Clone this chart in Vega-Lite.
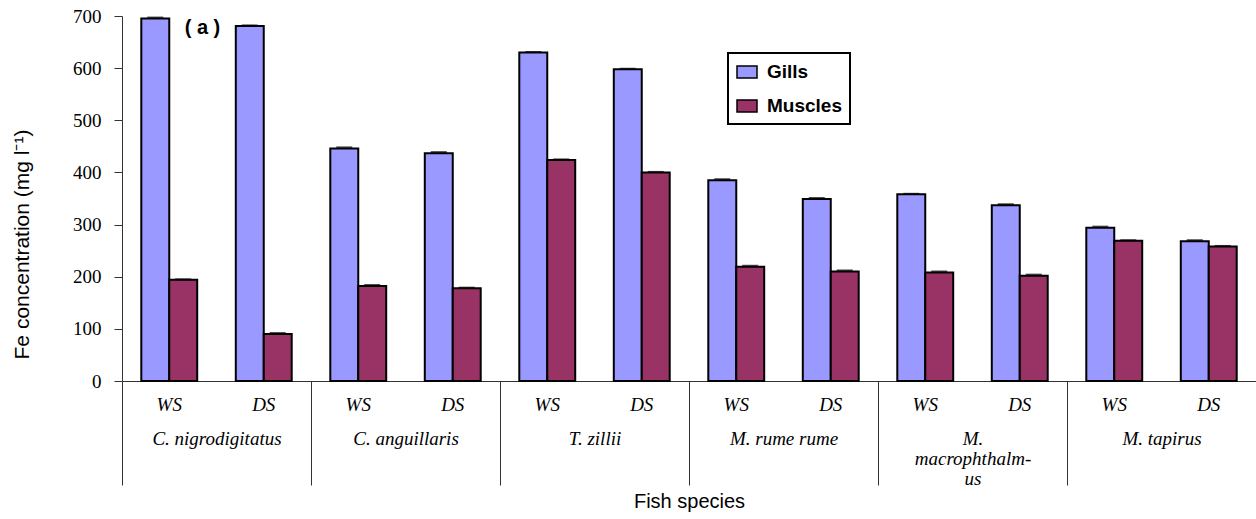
{
  "$schema": "https://vega.github.io/schema/vega-lite/v6.json",
  "width": 1134,
  "height": 365,
  "autosize": {"type": "none"},
  "padding": {"left": 122, "top": 16, "right": 0, "bottom": 138},
  "background": "white",
  "config": {"view": {"stroke": null}, "font": "Liberation Sans", "legend": {"strokeWidth": 2}},
  "data": {
    "values": [
      {"species": "C. nigrodigitatus", "cell": "C. nigrodigitatus|WS", "organ": "Gills", "value": 695, "upper": 697},
      {"species": "C. nigrodigitatus", "cell": "C. nigrodigitatus|WS", "organ": "Muscles", "value": 194, "upper": 195},
      {"species": "C. nigrodigitatus", "cell": "C. nigrodigitatus|DS", "organ": "Gills", "value": 681, "upper": 682},
      {"species": "C. nigrodigitatus", "cell": "C. nigrodigitatus|DS", "organ": "Muscles", "value": 90, "upper": 92},
      {"species": "C. anguillaris", "cell": "C. anguillaris|WS", "organ": "Gills", "value": 446, "upper": 448},
      {"species": "C. anguillaris", "cell": "C. anguillaris|WS", "organ": "Muscles", "value": 182, "upper": 184},
      {"species": "C. anguillaris", "cell": "C. anguillaris|DS", "organ": "Gills", "value": 437, "upper": 439},
      {"species": "C. anguillaris", "cell": "C. anguillaris|DS", "organ": "Muscles", "value": 178, "upper": 179},
      {"species": "T. zillii", "cell": "T. zillii|WS", "organ": "Gills", "value": 630, "upper": 631},
      {"species": "T. zillii", "cell": "T. zillii|WS", "organ": "Muscles", "value": 424, "upper": 425},
      {"species": "T. zillii", "cell": "T. zillii|DS", "organ": "Gills", "value": 598, "upper": 599},
      {"species": "T. zillii", "cell": "T. zillii|DS", "organ": "Muscles", "value": 400, "upper": 401},
      {"species": "M. rume rume", "cell": "M. rume rume|WS", "organ": "Gills", "value": 385, "upper": 387},
      {"species": "M. rume rume", "cell": "M. rume rume|WS", "organ": "Muscles", "value": 219, "upper": 221},
      {"species": "M. rume rume", "cell": "M. rume rume|DS", "organ": "Gills", "value": 349, "upper": 351},
      {"species": "M. rume rume", "cell": "M. rume rume|DS", "organ": "Muscles", "value": 210, "upper": 212},
      {"species": "M. macrophthalmus", "cell": "M. macrophthalmus|WS", "organ": "Gills", "value": 358, "upper": 359},
      {"species": "M. macrophthalmus", "cell": "M. macrophthalmus|WS", "organ": "Muscles", "value": 208, "upper": 210},
      {"species": "M. macrophthalmus", "cell": "M. macrophthalmus|DS", "organ": "Gills", "value": 337, "upper": 339},
      {"species": "M. macrophthalmus", "cell": "M. macrophthalmus|DS", "organ": "Muscles", "value": 202, "upper": 204},
      {"species": "M. tapirus", "cell": "M. tapirus|WS", "organ": "Gills", "value": 294, "upper": 296},
      {"species": "M. tapirus", "cell": "M. tapirus|WS", "organ": "Muscles", "value": 269, "upper": 270},
      {"species": "M. tapirus", "cell": "M. tapirus|DS", "organ": "Gills", "value": 268, "upper": 270},
      {"species": "M. tapirus", "cell": "M. tapirus|DS", "organ": "Muscles", "value": 258, "upper": 259}
    ]
  },
  "layer": [
    {
      "layer": [
        {
          "mark": {"type": "bar", "stroke": "black", "strokeWidth": 2},
          "encoding": {
            "x": {
              "field": "cell",
              "type": "nominal",
              "scale": {
                "domain": ["C. nigrodigitatus|WS", "C. nigrodigitatus|DS", "C. anguillaris|WS", "C. anguillaris|DS", "T. zillii|WS", "T. zillii|DS", "M. rume rume|WS", "M. rume rume|DS", "M. macrophthalmus|WS", "M. macrophthalmus|DS", "M. tapirus|WS", "M. tapirus|DS"],
                "paddingInner": 0,
                "paddingOuter": 0
              },
              "axis": {
                "title": null,
                "orient": "bottom",
                "labelExpr": "split(datum.label, '|')[1]",
                "ticks": false,
                "tickSize": 0,
                "labelAngle": 0,
                "labelFont": "Liberation Serif",
                "labelFontStyle": "italic",
                "labelFontSize": 19,
                "labelColor": "black",
                "labelPadding": 14,
                "domainColor": "#333333",
                "domainWidth": 1
              }
            },
            "xOffset": {
              "field": "organ",
              "type": "nominal",
              "scale": {"domain": ["Gills", "Muscles"], "paddingInner": 0, "paddingOuter": 0.69}
            },
            "y": {
              "field": "value",
              "type": "quantitative",
              "scale": {"domain": [0, 700], "nice": false},
              "axis": {
                "title": "Fe concentration (mg l⁻¹)",
                "values": [0, 100, 200, 300, 400, 500, 600, 700],
                "grid": false,
                "domainColor": "#333333",
                "tickColor": "#333333",
                "tickSize": 8,
                "labelPadding": 13,
                "labelFont": "Liberation Serif",
                "labelFontSize": 19,
                "labelColor": "black",
                "titleFont": "Liberation Sans",
                "titleFontSize": 21,
                "titleFontWeight": "normal",
                "titleColor": "black",
                "titlePadding": 40,
                "titleY": 228
              }
            },
            "fill": {
              "field": "organ",
              "type": "nominal",
              "scale": {"domain": ["Gills", "Muscles"], "range": ["#9999FF", "#993366"]},
              "legend": {
                "title": null,
                "orient": "none",
                "legendX": 606,
                "legendY": 37,
                "direction": "vertical",
                "strokeColor": "black",
                "fillColor": "white",
                "padding": 8,
                "symbolType": "M-1,-0.6H1V0.6H-1Z",
                "symbolSize": 400,
                "symbolStrokeColor": "black",
                "symbolStrokeWidth": 1.5,
                "symbolOpacity": 1,
                "labelFont": "Liberation Sans",
                "labelFontWeight": "bold",
                "labelFontSize": 19,
                "labelColor": "black",
                "labelOffset": 9,
                "rowPadding": 13
              }
            }
          }
        },
        {
          "mark": {"type": "tick", "color": "black", "thickness": 2, "size": 16},
          "encoding": {
            "x": {"field": "cell", "type": "nominal"},
            "xOffset": {"field": "organ", "type": "nominal"},
            "y": {"field": "upper", "type": "quantitative"}
          }
        },
        {
          "data": {"values": [{"cell": "C. nigrodigitatus|WS", "value": 677, "tag": "( a )"}]},
          "mark": {"type": "text", "font": "Liberation Sans", "fontWeight": "bold", "fontSize": 20, "color": "black", "dx": -14, "baseline": "middle"},
          "encoding": {
            "x": {"field": "cell", "type": "nominal", "bandPosition": 1},
            "y": {"field": "value", "type": "quantitative"},
            "text": {"field": "tag"}
          }
        }
      ]
    },
    {
      "mark": {"type": "rule", "opacity": 0},
      "encoding": {
        "x": {
          "field": "species",
          "type": "nominal",
          "sort": null,
          "scale": {"paddingInner": 0, "paddingOuter": 0},
          "axis": {
            "orient": "bottom",
            "title": "Fish species",
            "titleFont": "Liberation Sans",
            "titleFontSize": 20,
            "titleFontWeight": "normal",
            "titleColor": "black",
            "titlePadding": 3,
            "domain": false,
            "ticks": true,
            "tickBand": "extent",
            "tickSize": 104,
            "tickColor": "#333333",
            "labelPadding": -56,
            "labelAngle": 0,
            "labelFont": "Liberation Serif",
            "labelFontStyle": "italic",
            "labelFontSize": 19,
            "labelColor": "black",
            "labelLineHeight": 20,
            "labelLimit": 0,
            "labelExpr": "datum.label == 'M. macrophthalmus' ? ['M.', 'macrophthalm-', 'us'] : datum.label"
          }
        }
      }
    }
  ],
  "resolve": {"scale": {"x": "independent"}}
}
